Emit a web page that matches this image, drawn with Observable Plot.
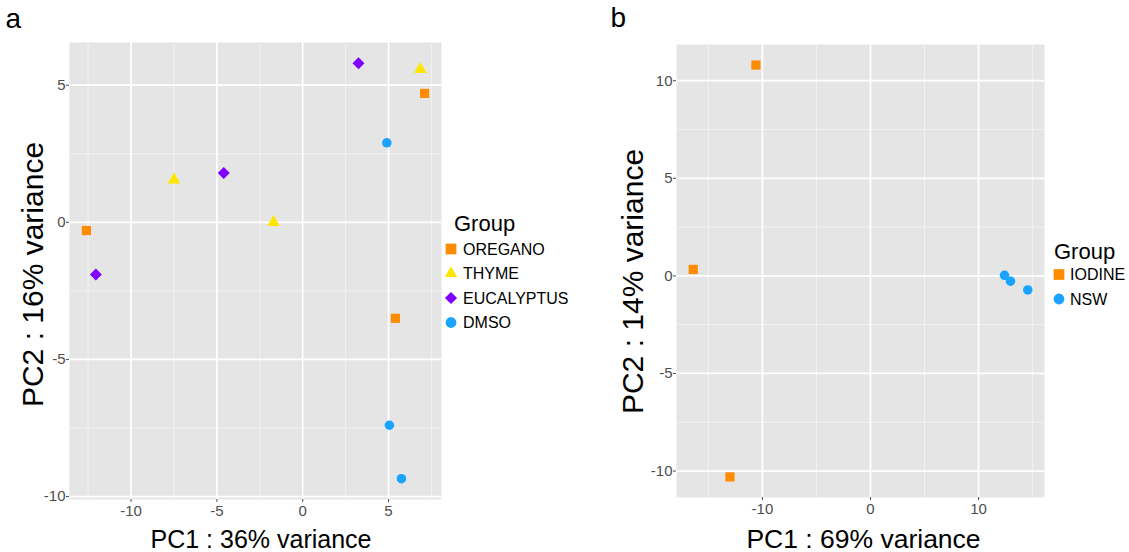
<!DOCTYPE html>
<html><head><meta charset="utf-8">
<script src="https://cdn.jsdelivr.net/npm/d3@7"></script>
<script src="https://cdn.jsdelivr.net/npm/@observablehq/plot@0.6"></script>
<style>
body{margin:0;background:#fff;}
#root{position:relative;width:1129px;height:552px;overflow:hidden;font-family:"Liberation Sans",Arial,sans-serif;background:#fff;}
.panel{position:absolute;top:0;}
.legend{position:absolute;top:0;left:0;overflow:visible;}
</style></head><body><div id="root"></div>
<script>
// ---------- data: panel a ----------
const groupsA = ["OREGANO", "THYME", "EUCALYPTUS", "DMSO"];
const sampleGroupA = ["OREGANO","OREGANO","OREGANO","THYME","THYME","THYME","EUCALYPTUS","EUCALYPTUS","EUCALYPTUS","DMSO","DMSO","DMSO"];
const pc1A = [-12.6, 7.1, 5.4, -7.5, -1.7, 6.85, -12.05, -4.6, 3.25, 4.9, 5.05, 5.75];
const pc2A = [-0.3, 4.7, -3.5, 1.55, 0.0, 5.58, -1.9, 1.8, 5.8, 2.9, -7.4, -9.35];
const xTicksA = [-10, -5, 0, 5];
const yTicksA = [-10, -5, 0, 5];
const xMinorA = [-12.5, -7.5, -2.5, 2.5, 7.5];
const yMinorA = [-7.5, -2.5, 2.5];
const xLabelA = "PC1 : 36% variance";
const yLabelA = "PC2 : 16% variance";

// ---------- data: panel b ----------
const groupsB = ["IODINE", "NSW"];
const sampleGroupB = ["IODINE","IODINE","IODINE","NSW","NSW","NSW"];
const pc1B = [-10.6, -16.4, -13.0, 12.4, 12.95, 14.55];
const pc2B = [10.8, 0.33, -10.3, 0.03, -0.27, -0.72];
const xTicksB = [-10, 0, 10];
const yTicksB = [-10, -5, 0, 5, 10];
const xMinorB = [-15, -5, 5, 15];
const yMinorB = [-7.5, -2.5, 2.5, 7.5];
const xLabelB = "PC1 : 69% variance";
const yLabelB = "PC2 : 14% variance";

const legendTitle = "Group";

// ---------- styles ----------
const SYMBOL = {OREGANO:"square", THYME:"triangle", EUCALYPTUS:"diamond2", DMSO:"circle", IODINE:"square", NSW:"circle"};
const COLOR = {OREGANO:"#FF8C00", THYME:"#FFE600", EUCALYPTUS:"#7F00FF", DMSO:"#1AA3FF", IODINE:"#FF8C00", NSW:"#1AA3FF"};
const RADIUS = {square:5.2, triangle:4.7, diamond2:5.4, circle:4.75};
const LEG_SIZE = {square:115, triangle:66, diamond2:95, circle:92};
const D3SYM = {square:d3.symbolSquare, triangle:d3.symbolTriangle, diamond2:d3.symbolDiamond2, circle:d3.symbolCircle};

function expand(vals, f = 0.05) {
  const [a, b] = d3.extent(vals);
  const d = (b - a) * f;
  return [a - d, b + d];
}

const root = document.getElementById("root");

function panel(cfg) {
  const data = cfg.pc1.map((x, i) => ({x, y: cfg.pc2[i], g: cfg.groupOf[i]}));
  const fmt = d => String(d);
  const chart = Plot.plot({
    width: cfg.width, height: 552,
    marginLeft: cfg.m[0], marginRight: cfg.m[1], marginTop: cfg.m[2], marginBottom: cfg.m[3],
    style: {fontFamily: '"Liberation Sans", Arial, sans-serif', background: "transparent", overflow: "visible"},
    x: {domain: expand(cfg.pc1), nice: false},
    y: {domain: expand(cfg.pc2), nice: false},
    marks: [
      Plot.frame({fill: "#E5E5E5", stroke: null}),
      Plot.ruleX(cfg.xMinor, {x: d => d, stroke: "#F2F2F2", strokeWidth: 1}),
      Plot.ruleY(cfg.yMinor, {y: d => d, stroke: "#F2F2F2", strokeWidth: 1}),
      Plot.ruleX(cfg.xTicks, {x: d => d, stroke: "#FFFFFF", strokeWidth: 1.7}),
      Plot.ruleY(cfg.yTicks, {y: d => d, stroke: "#FFFFFF", strokeWidth: 1.7}),
      ...cfg.groups.map(g => Plot.dot(data, {
        filter: d => d.g === g, x: "x", y: "y",
        symbol: SYMBOL[g], fill: COLOR[g], stroke: "none", r: RADIUS[SYMBOL[g]]
      })),
      Plot.axisX({ticks: cfg.xTicks, tickSize: 3, tickPadding: 3, fontSize: 15, color: "#4D4D4D", tickFormat: fmt, label: null}),
      Plot.axisY({ticks: cfg.yTicks, tickSize: 3, tickPadding: 1, fontSize: 15, color: "#4D4D4D", tickFormat: fmt, label: null}),
      Plot.text([cfg.yLabel], {text: d => d, frameAnchor: "left", rotate: -90, textAnchor: "middle", lineAnchor: "bottom",
        dx: cfg.yl[0], dy: cfg.yl[1], fontSize: cfg.yl[2], fill: "#000"}),
      Plot.text([cfg.xLabel], {text: d => d, frameAnchor: "bottom", textAnchor: "middle", lineAnchor: "bottom",
        dx: cfg.xl[0], dy: cfg.xl[1], fontSize: cfg.xl[2], fill: "#000"}),
      Plot.text([cfg.tag], {text: d => d, frameAnchor: "top-left", textAnchor: "start", lineAnchor: "bottom",
        dx: cfg.tg[0], dy: cfg.tg[1], fontSize: 28, fill: "#000"})
    ]
  });
  const div = document.createElement("div");
  div.className = "panel";
  div.style.left = cfg.left + "px";
  div.style.width = cfg.width + "px";
  div.appendChild(chart);
  root.appendChild(div);
}

function legend(groups, pos) {
  const svg = d3.select(root).append("svg").attr("class", "legend")
    .attr("width", 1129).attr("height", 552)
    .style("font-family", '"Liberation Sans", Arial, sans-serif');
  svg.append("text").attr("x", pos.tx).attr("y", pos.ty).attr("font-size", 22).attr("fill", "#000").text(legendTitle);
  groups.forEach((g, i) => {
    const cy = pos.y0 + i * 24.5;
    const s = SYMBOL[g];
    svg.append("path")
      .attr("transform", `translate(${pos.sx},${cy})`)
      .attr("d", d3.symbol(D3SYM[s], LEG_SIZE[s])())
      .attr("fill", COLOR[g]);
    svg.append("text").attr("x", pos.lx).attr("y", cy).attr("dy", "0.36em")
      .attr("font-size", 16).attr("fill", "#000").text(g);
  });
}

panel({
  groups: groupsA, groupOf: sampleGroupA, pc1: pc1A, pc2: pc2A,
  xTicks: xTicksA, yTicks: yTicksA, xMinor: xMinorA, yMinor: yMinorA,
  xLabel: xLabelA, yLabel: yLabelA, tag: "a",
  left: 0, width: 460, m: [69, 19, 42, 53],
  xl: [5.5, 48, 25], yl: [-27, 3.5, 30], tg: [-64, -15]
});
panel({
  groups: groupsB, groupOf: sampleGroupB, pc1: pc1B, pc2: pc2B,
  xTicks: xTicksB, yTicks: yTicksB, xMinor: xMinorB, yMinor: yMinorB,
  xLabel: xLabelB, yLabel: yLabelB, tag: "b",
  left: 590, width: 470, m: [86, 16, 44, 55],
  xl: [3, 50, 26.5], yl: [-34, 10.5, 30], tg: [-66, -18]
});
legend(groupsA, {tx: 454, ty: 231, sx: 451, y0: 249, lx: 463});
legend(groupsB, {tx: 1054, ty: 259, sx: 1059, y0: 274.5, lx: 1070});
</script></body></html>
